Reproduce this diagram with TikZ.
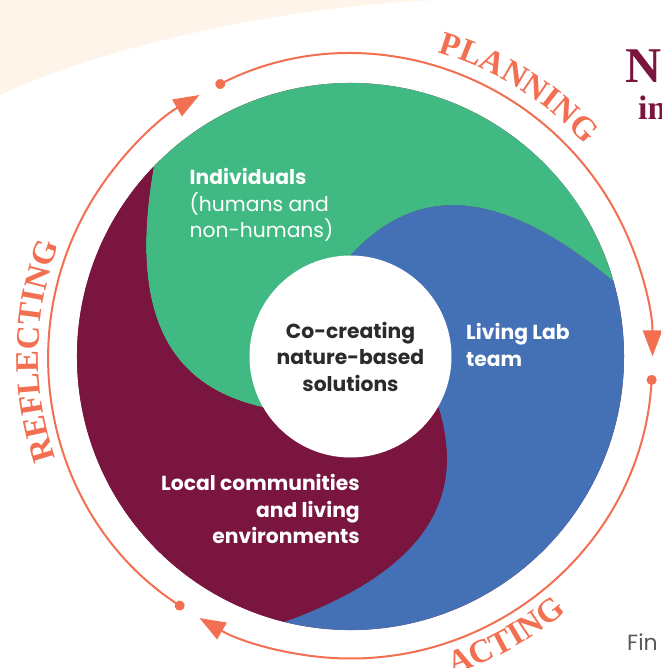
\documentclass[tikz,border=0pt]{standalone}
\usepackage{fontspec}
\setmainfont{Poppins}
\newfontfamily\stageserif{Liberation Serif}
\usetikzlibrary{arrows.meta,decorations.text}
\definecolor{swirlgreen}{HTML}{41B982}
\definecolor{swirlblue}{HTML}{4470B5}
\definecolor{swirlmaroon}{HTML}{7A1540}
\definecolor{ringorange}{HTML}{F26F52}
\definecolor{peach}{HTML}{FEF4EA}
\definecolor{inkdark}{HTML}{2B2B2B}
\definecolor{footgray}{HTML}{5A5A5A}
\newcommand{\stagefont}{\fontsize{33}{33}\selectfont\stageserif\bfseries}
\newcommand{\swirlfont}{\fontsize{20.3}{26.5}\selectfont\bfseries}
\tikzset{
  ringarrow/.style={draw=ringorange,line width=2pt,{Circle[length=10pt]}-{Triangle[length=26pt,width=19pt]}},
  stagelabel/.style={decorate,decoration={text along path,text align=center,text color=ringorange,text={|\stagefont|#1}}},
  swirltext/.style={text=white,font=\swirlfont,inner sep=0pt},
  hub/.style={circle,fill=white,minimum size=202pt,inner sep=0pt,align=center,text=inkdark,font=\swirlfont}
}

\begin{document}
\begin{tikzpicture}[x=1pt,y=1pt]
  \useasboundingbox (-350.5,-311.5) rectangle (310.5,356.5);
  \clip (-350.5,-311.5) rectangle (310.5,356.5);
  % backdrop
  \fill[peach] (-350.5,261.5) .. controls (-230.5,316.5) and (-50.5,351.5) .. (89.5,356.5) -- (-350.5,356.5) -- cycle;

  % three swirl arms, one shape turned by 120 degrees
  \fill[swirlmaroon] (0,0) circle[radius=273.5];
  \foreach \rot/\col in {0/swirlblue,120/swirlgreen,240/swirlmaroon}{
    \fill[\col,rotate=\rot] (-104:273.5) arc[start angle=-104,end angle=16,radius=273.5]
      .. controls (54.3:227.4) and (71.2:169.1) .. (90:101.5) -- (0,0) -- (-30:101.5)
      .. controls (-48.8:169.1) and (-65.7:227.4) .. (-104:273.5) -- cycle;
  }
  \node[hub] (hub) at (0,0) {Co-creating\\nature-based\\solutions};

  \node[swirltext,align=left,anchor=west] (indiv) at (-161,151.5) {Individuals\\\mdseries(humans and\\\mdseries non-humans)};
  \node[swirltext,align=left,anchor=west] (labteam) at (115.5,11.5) {Living Lab\\team};
  \node[swirltext,align=right,anchor=east] (locals) at (9.5,-152.5) {Local communities\\and living\\environments};

  % cycle ring
  \foreach \a in {0,120,240}
    \draw[ringarrow,rotate=-\a] (116.5:302) arc[start angle=116.5,end angle=0,radius=302];
  \path[stagelabel=PLANNING] (100:316) arc[start angle=100,end angle=16,radius=316];
  \path[stagelabel=REFLECTING] (219:312) arc[start angle=219,end angle=139,radius=312];
  \path[stagelabel=ACTING] (-101:334) arc[start angle=-101,end angle=-21,radius=334];

  % cut-off page text
  \node[anchor=base west,inner sep=0pt,text=swirlmaroon,font=\fontsize{50}{50}\selectfont\stageserif\bfseries] (titleN) at (274.5,273.5) {N};
  \node[anchor=base west,inner sep=0pt,text=swirlmaroon,font=\fontsize{34}{34}\selectfont\stageserif\bfseries] (titlei) at (287.5,236.5) {in};
  \node[anchor=base west,inner sep=0pt,text=footgray,font=\fontsize{22}{22}\selectfont] (fin) at (276.5,-293.5) {Fin};
\end{tikzpicture}
\end{document}
